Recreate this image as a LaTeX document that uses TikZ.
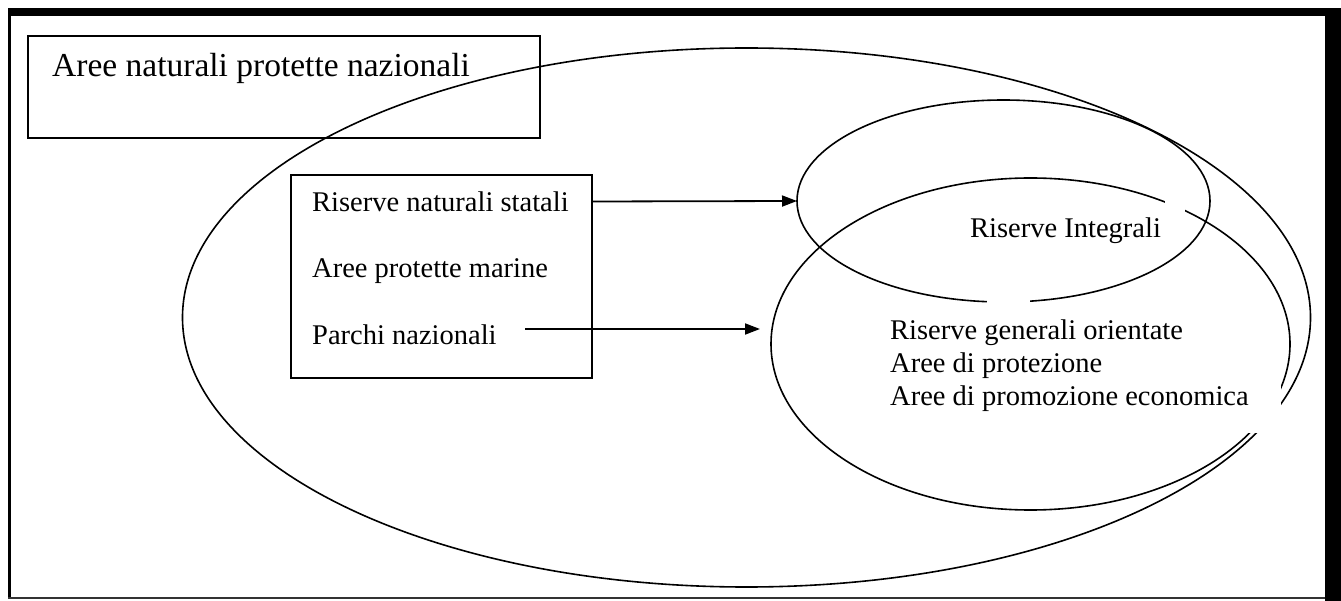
\documentclass[tikz,border=0pt]{standalone}
\usepackage{fontspec}
\setmainfont{Liberation Serif}
\usetikzlibrary{arrows.meta,shapes.geometric}
\begin{document}
\begin{tikzpicture}[x=1pt,y=-1pt,
  ell/.style={draw, ellipse, inner sep=0pt, outer sep=0pt, line width=1.6pt},
  boxframe/.style={draw, rectangle, inner sep=0pt, outer sep=0pt, line width=2pt},
  lbl/.style={anchor=base west, inner sep=0pt, font=\fontsize{28.5}{32}\selectfont},
  arr/.style={line width=1.8pt, -{Triangle[length=15pt,width=11pt]}},
  masking/.style={fill=white, draw=none}]
\useasboundingbox (0,0) rectangle (1341,601);
\fill[white] (0,0) rectangle (1341,601);
% frame of the picture
\fill[black] (8,8) rectangle (1341,16);
\fill[black] (1325,8) rectangle (1341,601);
\fill[black] (8,8) rectangle (11,599);
\fill[black!80] (8,597) rectangle (1325,599);
% title box
\node[boxframe, minimum width=512pt, minimum height=102pt] (titlebox) at (284,87) {};
% ellipses
\node[ell, minimum width=1128pt, minimum height=539pt] (outer) at (746.5,317.5) {};
\node[ell, minimum width=413pt, minimum height=202pt] (upper) at (1003.5,201) {};
\node[ell, minimum width=519pt, minimum height=332pt] (lower) at (1030.5,344) {};
% white text areas that break the outlines
\fill[masking] (870,305) rectangle (1281,433);
\fill[masking] (987,295) rectangle (1030,306);
\fill[masking] (1165,195) rectangle (1185,216);
% inner box
\node[boxframe, minimum width=301pt, minimum height=203pt] (inner) at (441.75,276.5) {};
% texts
\node[lbl, font=\fontsize{33.5}{36}\selectfont] (ttl) at (52,77) {Aree naturali protette nazionali};
\node[lbl] (rns) at (312,212) {Riserve naturali statali};
\node[lbl] (apm) at (312,278) {Aree protette marine};
\node[lbl] (pn) at (312,345) {Parchi nazionali};
\node[lbl] (ri) at (970,238) {Riserve Integrali};
\node[lbl] (rgo) at (890,340) {Riserve generali orientate};
\node[lbl] (adp) at (890,373) {Aree di protezione};
\node[lbl] (ape) at (890,405) {Aree di promozione economica};
% arrows
\coordinate (a1s) at (592,201.5);
\draw[arr] (a1s) -- (upper.west);
\coordinate (a2s) at (525,329);
\coordinate (a2e) at (760,329);
\draw[arr] (a2s) -- (a2e);
\end{tikzpicture}
\end{document}
